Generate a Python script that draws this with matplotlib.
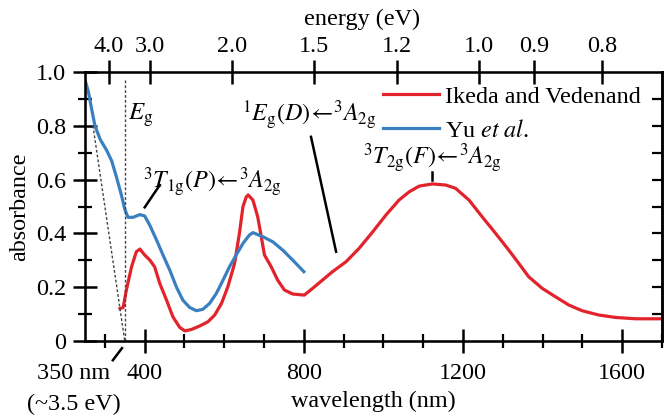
import matplotlib
matplotlib.use('Agg')
import matplotlib.pyplot as plt
import numpy as np

plt.rcParams['font.family'] = ['Liberation Serif', 'DejaVu Serif']
plt.rcParams['mathtext.fontset'] = 'stix'

RED = '#e2232b'
BLUE = '#3a80c1'
FS = 17.4

# Yu et al. (blue)
yu_nm = [250, 258, 267, 275, 288, 304, 317, 329, 342, 350, 358, 371, 388, 400, 413,
         430, 446, 463, 480, 496, 513, 530, 546, 563, 580, 597, 613, 630, 647, 663,
         672, 697, 722, 747, 772, 800]
yu_abs = [0.97, 0.93, 0.86, 0.80, 0.75, 0.71, 0.67, 0.61, 0.54, 0.49, 0.46, 0.46, 0.47, 0.465, 0.43,
          0.375, 0.32, 0.264, 0.20, 0.152, 0.125, 0.113, 0.118, 0.14, 0.177, 0.227, 0.276, 0.32, 0.363, 0.394,
          0.403, 0.388, 0.369, 0.338, 0.301, 0.258]

# Ikeda and Vedenand (red)
ik_nm = [338, 346, 354, 367, 379, 388, 400, 413, 425, 438, 455, 471, 488, 501, 517,
         538, 559, 576, 593, 609, 626, 638, 647, 655, 660, 672, 684, 693, 701, 718,
         734, 751, 772, 801, 822, 847, 872, 906, 939, 973, 1006, 1039, 1065, 1090, 1123,
         1156, 1181, 1215, 1248, 1282, 1315, 1340, 1365, 1399, 1432, 1466, 1499, 1541, 1583, 1633,
         1700]
ik_abs = [0.121, 0.125, 0.19, 0.276, 0.332, 0.342, 0.32, 0.301, 0.276, 0.214, 0.152, 0.09, 0.051, 0.038, 0.043,
          0.056, 0.072, 0.097, 0.14, 0.202, 0.289, 0.40, 0.50, 0.535, 0.543, 0.524, 0.462, 0.388, 0.32, 0.276,
          0.227, 0.19, 0.175, 0.171, 0.196, 0.227, 0.258, 0.295, 0.345, 0.406, 0.468, 0.524, 0.555, 0.576, 0.584,
          0.58, 0.568, 0.524, 0.462, 0.40, 0.338, 0.289, 0.239, 0.196, 0.165, 0.134, 0.113, 0.097, 0.088, 0.083,
          0.083]

energy_ticks = [4.0, 3.0, 2.0, 1.5, 1.2, 1.0, 0.9, 0.8]
wl_major = [400, 800, 1200, 1600]

fig = plt.figure(figsize=(6.64, 4.16), dpi=100)
ax = fig.add_axes([0.128, 0.180, 0.869, 0.647])

ax.plot(ik_nm, ik_abs, color=RED, lw=2.3, label='Ikeda and Vedenand')
ax.plot(yu_nm, yu_abs, color=BLUE, lw=2.3, label=r'Yu $\mathit{et\ al}$.')

# band gap construction
ax.plot([350, 350], [0.97, 0.0], ls=(0, (2, 1.5)), color='#444444', lw=1.0)
ax.plot([270, 350], [0.80, 0.0], ls=(0, (2, 1.5)), color='#444444', lw=1.0)

ax.set_xlim(250, 1700)
ax.set_ylim(0, 1.0)

for s in ax.spines.values():
    s.set_linewidth(1.8)

ax.set_xticks(wl_major)
ax.set_xticks(np.arange(300, 1701, 100), minor=True)
ax.set_yticks([0, 0.2, 0.4, 0.6, 0.8, 1.0])
ax.set_yticklabels(['0', '0.2', '0.4', '0.6', '0.8', '1.0'])
ax.set_yticks(np.arange(0.1, 1.0, 0.2), minor=True)
ax.tick_params(axis='both', which='major', direction='inout', length=17, width=1.8,
               labelsize=FS)
ax.tick_params(axis='x', which='major', pad=7)
ax.tick_params(axis='y', which='major', pad=5)
ax.tick_params(axis='both', which='minor', direction='inout', length=10, width=1.6)
ax.tick_params(axis='y', which='both', right=False)

ax.set_xlabel('wavelength (nm)', fontsize=FS, labelpad=5)
ax.set_ylabel('absorbance', fontsize=FS, labelpad=4)

# right-hand ticks point inward only
axr = ax.twinx()
axr.set_ylim(0, 1.0)
axr.set_yticks(np.arange(0.1, 1.0, 0.1))
axr.tick_params(axis='y', direction='in', length=7, width=1.6, labelright=False)
axr.spines['right'].set_linewidth(1.8)

# energy axis on top
ax2 = ax.twiny()
ax2.set_xlim(ax.get_xlim())
ax2.set_xticks([1239.84 / e for e in energy_ticks])
ax2.set_xticklabels(['%.1f' % e for e in energy_ticks])
ax2.tick_params(axis='x', direction='inout', length=17, width=1.8, labelsize=FS, pad=2)
ax2.set_xlabel('energy (eV)', fontsize=FS)
ax2.xaxis.set_label_coords(0.48, 1.175)

leg = ax.legend(loc='upper left', bbox_to_anchor=(0.50, 0.985), frameon=False, fontsize=FS,
                handlelength=2.3, handletextpad=0.25, labelspacing=0.5, borderaxespad=0)

# annotations
ax.text(357, 0.84, r'$E_{\mathrm{g}}$', fontsize=FS + 0.5, va='center', ha='left')
ax.text(396, 0.59, r'$^3T_{1\mathrm{g}}(P)\!\leftarrow\!{}^3A_{2\mathrm{g}}$', fontsize=FS,
        va='center', ha='left')
ax.plot([438, 400], [0.58, 0.497], color='black', lw=1.8)
ax.text(645, 0.84, r'$^1E_{\mathrm{g}}(D)\!\leftarrow\!{}^3A_{2\mathrm{g}}$', fontsize=FS,
        va='center', ha='left')
ax.plot([818, 881], [0.759, 0.332], color='black', lw=1.8)
ax.text(1122, 0.68, r'$^3T_{2\mathrm{g}}(F)\!\leftarrow\!{}^3A_{2\mathrm{g}}$', fontsize=FS,
        va='center', ha='center')
ax.plot([1123, 1123], [0.598, 0.63], color='black', lw=1.8)

ax.text(222, -0.12, '350 nm', fontsize=FS, ha='center', va='center', clip_on=False)
ax.text(222, -0.235, '(~3.5 eV)', fontsize=FS, ha='center', va='center', clip_on=False)
ax.plot([320, 343], [-0.071, -0.026], color='black', lw=1.8, clip_on=False)

fig.savefig('out.png', dpi=100)
